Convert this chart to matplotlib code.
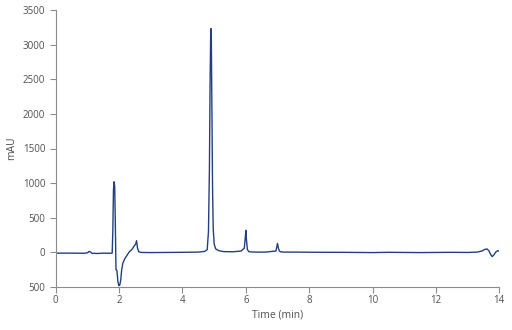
import matplotlib
matplotlib.use("Agg")
import matplotlib.pyplot as plt

# chromatogram: time (min) and signal (mAU)
time = [0.0, 0.5, 0.9, 1.0, 1.05, 1.1, 1.15, 1.2, 1.3, 1.5, 1.7, 1.78, 1.80, 1.82, 1.84,
        1.86, 1.88, 1.90, 1.93, 1.96, 1.99, 2.02, 2.05, 2.08, 2.12, 2.18, 2.25, 2.32,
        2.40, 2.47, 2.52, 2.55, 2.58, 2.62, 2.70, 3.0, 3.5, 4.0, 4.5, 4.7, 4.78, 4.82,
        4.85, 4.87, 4.89, 4.90, 4.91, 4.93, 4.95, 4.97, 5.0, 5.05, 5.15, 5.3, 5.6, 5.85,
        5.92, 5.95, 5.98, 6.00, 6.02, 6.05, 6.1, 6.3, 6.6, 6.95, 7.0, 7.03, 7.06, 7.10,
        7.2, 7.6, 8.0, 8.5, 9.0, 9.5, 10.0, 10.5, 11.0, 11.5, 12.0, 12.5, 13.0, 13.3,
        13.45, 13.55, 13.62, 13.68, 13.73, 13.78, 13.84, 13.90, 13.96, 14.0]
signal = [-10, -10, -12, -5, 15, 5, -15, -12, -15, -10, -12, -10, 300, 900, 1020,
          950, 400, -250, -260, -420, -480, -470, -400, -250, -150, -90, -40, 10,
          40, 90, 120, 170, 60, 10, 0, -2, 0, 2, 5, 15, 40, 300,
          1200, 2400, 3150, 3230, 3100, 2000, 900, 350, 120, 50, 25, 12, 10, 20,
          50, 60, 200, 320, 180, 40, 10, 5, 5, 20, 130, 60, 20, 10,
          5, 5, 3, 2, 2, 0, -2, 2, 0, -2, 0, 2, 0, 5,
          20, 45, 50, 20, -30, -60, -30, 10, 25, 20]

xticks = [0, 2, 4, 6, 8, 10, 12, 14]
yticks = [-500, 0, 500, 1000, 1500, 2000, 2500, 3000, 3500]
ytick_labels = ["500", "0", "500", "1000", "1500", "2000", "2500", "3000", "3500"]

plt.rcParams['font.family'] = ['Open Sans', 'DejaVu Sans']

fig = plt.figure(figsize=(5.12, 3.3), dpi=100)
ax = fig.add_axes([0.109, 0.130, 0.866, 0.840])
ax.plot(time, signal, color='#243f7e', lw=1.0)

ax.set_xlim(0, 14)
ax.set_ylim(-500, 3500)
ax.set_xticks(xticks)
ax.set_yticks(yticks)
ax.set_yticklabels(ytick_labels)
for s in ['top', 'right']:
    ax.spines[s].set_visible(False)
for s in ['left', 'bottom']:
    ax.spines[s].set_color('#8c8c8c')
    ax.spines[s].set_linewidth(0.8)
ax.tick_params(colors='#8c8c8c', labelcolor='#505050', labelsize=7, length=4, width=0.8)
ax.tick_params(axis='x', pad=2)
ax.set_xlabel('Time (min)', fontsize=7.5, color='#505050', labelpad=2)
ax.set_ylabel('mAU', fontsize=7.5, color='#505050', labelpad=4)

fig.savefig('out.png', dpi=100)
